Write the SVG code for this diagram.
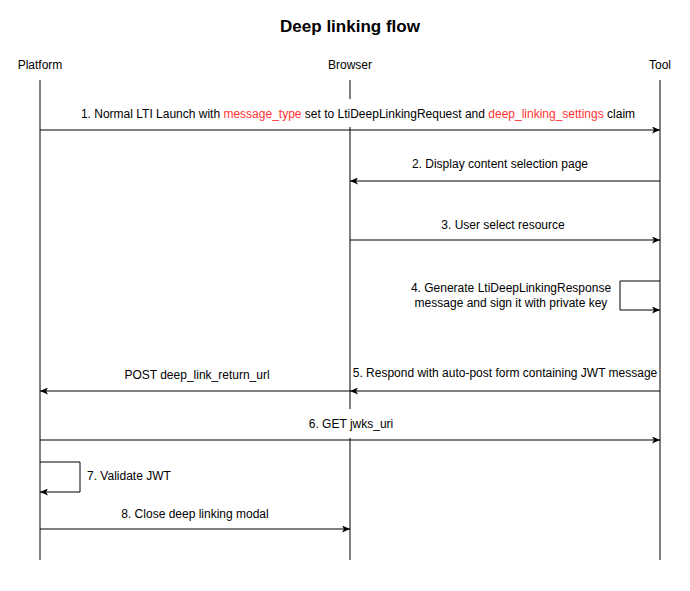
<svg xmlns="http://www.w3.org/2000/svg" width="690" height="591" viewBox="0 0 690 591">
<style>
text{font-family:"Liberation Sans",Arial,sans-serif;font-size:12px;fill:#000}
.t{font-size:17px;font-weight:bold}
.r{fill:#ff3333}
.life{stroke:#000;stroke-width:1;fill:none}
.msg{stroke:#000;stroke-width:1;fill:none;marker-end:url(#ah)}
</style>
<defs>
<marker id="ah" viewBox="0 0 8 7" refX="8" refY="3.5" markerWidth="8" markerHeight="7" markerUnits="userSpaceOnUse" orient="auto">
<path d="M0,0 L8,3.5 L0,7 L2,3.5 z" fill="#000"/>
</marker>
</defs>
<rect width="690" height="591" fill="#fff"/>
<text class="t" x="350" y="32" text-anchor="middle">Deep linking flow</text>
<g id="platform">
<text x="40" y="69" text-anchor="middle">Platform</text>
<line class="life" x1="40" y1="80" x2="40" y2="560"/>
</g>
<g id="browser">
<text x="350" y="69" text-anchor="middle">Browser</text>
<line class="life" x1="350" y1="80" x2="350" y2="560"/>
</g>
<g id="tool">
<text x="660" y="69" text-anchor="middle">Tool</text>
<line class="life" x1="660" y1="80" x2="660" y2="560"/>
</g>
<g id="connectors">
<path class="msg" d="M40,130 H660"/>
<rect x="78" y="99" width="560" height="28" fill="#fff"/>
<text x="358" y="118" text-anchor="middle">1. Normal LTI Launch with <tspan class="r">message_type</tspan> set to LtiDeepLinkingRequest and <tspan class="r">deep_linking_settings</tspan> claim</text>
<path class="msg" d="M660,181 H350"/>
<text x="500" y="168" text-anchor="middle">2. Display content selection page</text>
<path class="msg" d="M350,240 H660"/>
<text x="503" y="229" text-anchor="middle">3. User select resource</text>
<path class="msg" d="M660,281 H620 V310 H660"/>
<text x="511" y="292" text-anchor="middle">4. Generate LtiDeepLinkingResponse</text>
<text x="511" y="307" text-anchor="middle">message and sign it with private key</text>
<path class="msg" d="M660,391 H350"/>
<text x="505" y="377" text-anchor="middle">5. Respond with auto-post form containing JWT message</text>
<path class="msg" d="M350,391 H40"/>
<text x="197" y="379" text-anchor="middle">POST deep_link_return_url</text>
<path class="msg" d="M40,440 H660"/>
<rect x="305" y="409" width="92" height="29" fill="#fff"/>
<text x="351" y="428" text-anchor="middle">6. GET jwks_uri</text>
<path class="msg" d="M40,462 H80 V492 H40"/>
<text x="87" y="480">7. Validate JWT</text>
<path class="msg" d="M40,529 H350"/>
<text x="195" y="518" text-anchor="middle">8. Close deep linking modal</text>
</g>
</svg>
